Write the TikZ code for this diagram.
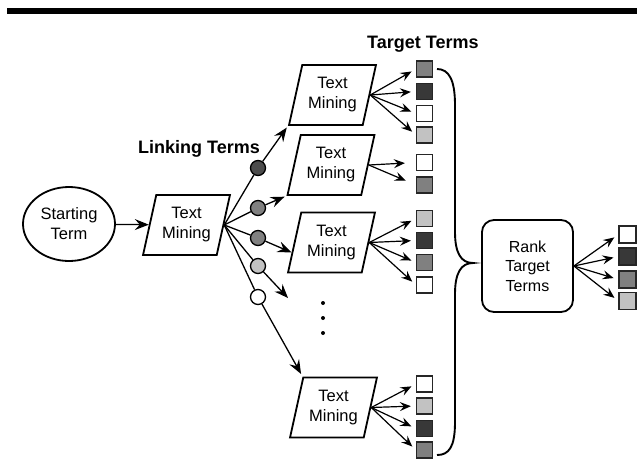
\documentclass[tikz,border=0pt]{standalone}
\usepackage{fontspec}
\setmainfont{Liberation Sans}
\usepackage{tikz}
\usetikzlibrary{shapes.geometric,arrows.meta,positioning}

\definecolor{darkterm}{gray}{0.22}
\definecolor{midterm}{gray}{0.5}
\definecolor{lightterm}{gray}{0.76}

\tikzstyle{startterm} = [draw, ellipse, line width=1.8pt, minimum width=92pt, minimum height=74pt, inner sep=0pt, align=center, font=\fontsize{16.5}{20}\selectfont]
\tikzstyle{mining} = [draw, trapezium, trapezium left angle=73, trapezium right angle=107, trapezium stretches=true, line width=1.8pt, minimum width=87pt, minimum height=60pt, inner sep=0pt, align=center, font=\fontsize{16.5}{20}\selectfont]
\tikzstyle{ranker} = [draw, rectangle, rounded corners=12pt, line width=1.8pt, minimum width=91pt, minimum height=92pt, align=center, font=\fontsize{16}{19.5}\selectfont]
\tikzstyle{linkterm} = [draw, circle, line width=1.3pt, minimum size=15pt, inner sep=0pt]
\tikzstyle{targetterm} = [draw=black!85, rectangle, line width=1.2pt, minimum size=16pt, inner sep=0pt]
\tikzstyle{heading} = [anchor=base west, inner sep=0pt, font=\fontsize{18}{21}\bfseries\selectfont]
\tikzstyle{linkarrow} = [line width=1.3pt, -{Stealth[length=14pt,width=11pt,inset=5pt]}]
\tikzstyle{fanarrow} = [line width=1.2pt, -{Stealth[length=11pt,width=9pt,inset=4pt]}, shorten >=5pt]

\begin{document}
\begin{tikzpicture}[x=1pt,y=-1pt]
\useasboundingbox (0,0) rectangle (637,469);
\fill (7,8) rectangle (637,14);

\node[heading] (targethead) at (367,48) {Target Terms};
\node[heading] (linkhead) at (138,153) {Linking Terms};

\node[startterm] (st) at (69,224) {Starting\\Term};
\node[mining] (tm1) at (186.5,225) {Text\\Mining};
\draw[linkarrow] (st) -- (tm1);

\node[mining] (tm2) at (332.5,95) {Text\\Mining};
\node[mining] (tm3) at (331,165) {Text\\Mining};
\node[mining] (tm4) at (331.5,242.5) {Text\\Mining};
\node[mining] (tm5) at (333.5,407.5) {Text\\Mining};

\node[linkterm, fill=darkterm!90] (lt1) at (258,168) {};
\node[linkterm, fill=midterm] (lt2) at (258,208) {};
\node[linkterm, fill=midterm] (lt3) at (258,238) {};
\node[linkterm, fill=lightterm] (lt4) at (258,266) {};
\node[linkterm, fill=white] (lt5) at (258,297) {};
\coordinate (gap) at (288,298);

\draw[line width=1.3pt] (tm1.east) -- (lt1);
\draw[line width=1.3pt] (tm1.east) -- (lt2);
\draw[line width=1.3pt] (tm1.east) -- (lt3);
\draw[line width=1.3pt] (tm1.east) -- (lt4);
\draw[line width=1.3pt] (tm1.east) -- (lt5);
\draw[linkarrow, shorten >=2pt] (lt1) -- (tm2.bottom left corner);
\draw[linkarrow, shorten >=2pt] (lt2) -- (tm3.bottom left corner);
\draw[linkarrow] (lt3) -- (tm4.194);
\draw[linkarrow] (lt4) -- (gap);
\draw[linkarrow, shorten >=3pt] (lt5) -- (tm5.top left corner);

\fill (323,303) circle (2pt) (323,318) circle (2pt) (323,333) circle (2pt);

\node[targetterm, fill=midterm] (a1) at (424.5,69) {};
\node[targetterm, fill=darkterm] (a2) at (424.5,91.5) {};
\node[targetterm, fill=white] (a3) at (424.5,113.5) {};
\node[targetterm, fill=lightterm] (a4) at (424.5,135) {};
\node[targetterm, fill=white] (b1) at (424.5,162.5) {};
\node[targetterm, fill=midterm] (b2) at (424.5,185) {};
\node[targetterm, fill=lightterm] (c1) at (424.5,218.5) {};
\node[targetterm, fill=darkterm] (c2) at (424.5,240.5) {};
\node[targetterm, fill=midterm] (c3) at (424.5,262.5) {};
\node[targetterm, fill=white] (c4) at (424.5,285) {};
\node[targetterm, fill=white] (d1) at (424.5,384) {};
\node[targetterm, fill=lightterm] (d2) at (424.5,406) {};
\node[targetterm, fill=darkterm] (d3) at (424.5,428.5) {};
\node[targetterm, fill=midterm] (d4) at (424.5,450) {};

\draw[fanarrow] (tm2.east) -- (a1.west);
\draw[fanarrow] (tm2.east) -- (a2.west);
\draw[fanarrow] (tm2.east) -- (a3.west);
\draw[fanarrow] (tm2.east) -- (a4.west);
\draw[fanarrow, shorten >=11pt] (tm3.east) -- (b1.west);
\draw[fanarrow, shorten >=11pt] (tm3.east) -- (b2.west);
\draw[fanarrow] (tm4.east) -- (c1.west);
\draw[fanarrow] (tm4.east) -- (c2.west);
\draw[fanarrow] (tm4.east) -- (c3.west);
\draw[fanarrow] (tm4.east) -- (c4.west);
\draw[fanarrow] (tm5.east) -- (d1.west);
\draw[fanarrow] (tm5.east) -- (d2.west);
\draw[fanarrow] (tm5.east) -- (d3.west);
\draw[fanarrow] (tm5.east) -- (d4.west);

\draw[line width=1.9pt] (437,69) .. controls (449,69) and (455,80) .. (455,105)
  -- (455,232) .. controls (455,253) and (461,263) .. (473,263)
  .. controls (461,263) and (455,273) .. (455,294)
  -- (455,422) .. controls (455,447) and (449,455) .. (437,455);

\node[ranker] (rank) at (527.5,266) {Rank\\Target\\Terms};

\node[targetterm, minimum size=17pt, fill=white] (r1) at (627.5,234.5) {};
\node[targetterm, minimum size=17pt, fill=darkterm] (r2) at (627.5,256.5) {};
\node[targetterm, minimum size=17pt, fill=midterm] (r3) at (627.5,279.5) {};
\node[targetterm, minimum size=17pt, fill=lightterm] (r4) at (627.5,301) {};
\draw[fanarrow] (rank.east) -- (r1.west);
\draw[fanarrow] (rank.east) -- (r2.west);
\draw[fanarrow] (rank.east) -- (r3.west);
\draw[fanarrow] (rank.east) -- (r4.west);
\end{tikzpicture}
\end{document}
